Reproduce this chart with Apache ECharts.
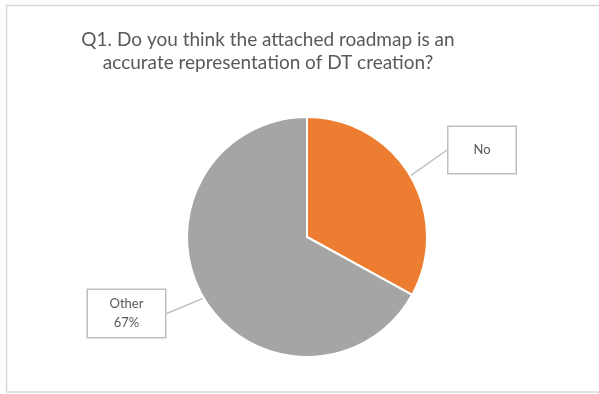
<!DOCTYPE html>
<html>
<head>
<meta charset="utf-8">
<script src="https://cdn.jsdelivr.net/npm/echarts@6/dist/echarts.min.js"></script>
<style>
  html, body { margin: 0; padding: 0; background: #fff; }
  #chart { width: 599px; height: 394px; }
</style>
</head>
<body>
<div id="chart"></div>
<script>
// Survey answers for Q1
const titleLines = ['Q1. Do you think the attached roadmap is an', 'accurate representation of DT creation?'];
const categories = ['No', 'Other'];
const shares = [33, 67];
const sliceColors = ['#ED7D31', '#A5A5A5'];
// which callouts show the percentage as well as the name
const showPercent = [false, true];

// callout box centres and sizes, per slice
const calloutCenters = [[482, 150], [126.5, 313.5]];
const calloutSizes = [[67, 46], [77, 47]];

const chart = echarts.init(document.getElementById('chart'), null, { renderer: 'canvas' });

const pieData = categories.map((name, i) => ({
  name: name,
  value: shares[i],
  itemStyle: { color: sliceColors[i] },
  label: {
    width: calloutSizes[i][0],
    height: calloutSizes[i][1],
    formatter: showPercent[i] ? '{b}\n{d}%' : '{b}'
  }
}));

chart.setOption({
  backgroundColor: '#ffffff',
  animation: false,
  graphic: [{
    type: 'rect',
    shape: { x: 6.5, y: 5.5, width: 620, height: 386.5 },
    style: { fill: 'none', stroke: '#d9d9d9', lineWidth: 1.5 },
    silent: true
  }],
  title: {
    text: titleLines.join('\n'),
    left: 268,
    top: 28,
    padding: 0,
    textAlign: 'center',
    textStyle: {
      fontFamily: 'Lato',
      fontSize: 19,
      fontWeight: 'normal',
      color: '#595959',
      lineHeight: 23.5
    }
  },
  series: [{
    type: 'pie',
    center: [307, 237],
    radius: [0, 120],
    startAngle: 90,
    clockwise: true,
    data: pieData,
    itemStyle: { borderColor: '#ffffff', borderWidth: 2 },
    label: {
      show: true,
      position: 'outside',
      fontFamily: 'Lato',
      fontSize: 13,
      lineHeight: 19,
      color: '#595959',
      align: 'center',
      verticalAlign: 'middle',
      backgroundColor: '#ffffff',
      borderColor: '#bfbfbf',
      borderWidth: 1.5,
      padding: 0
    },
    labelLine: {
      show: true,
      length: 20,
      length2: 0,
      lineStyle: { color: '#bfbfbf', width: 1.5 }
    },
    labelLayout: function (params) {
      const c = calloutCenters[params.dataIndex];
      return { x: c[0], y: c[1], align: 'center', verticalAlign: 'middle' };
    },
    emphasis: { disabled: true }
  }]
});
</script>
</body>
</html>
